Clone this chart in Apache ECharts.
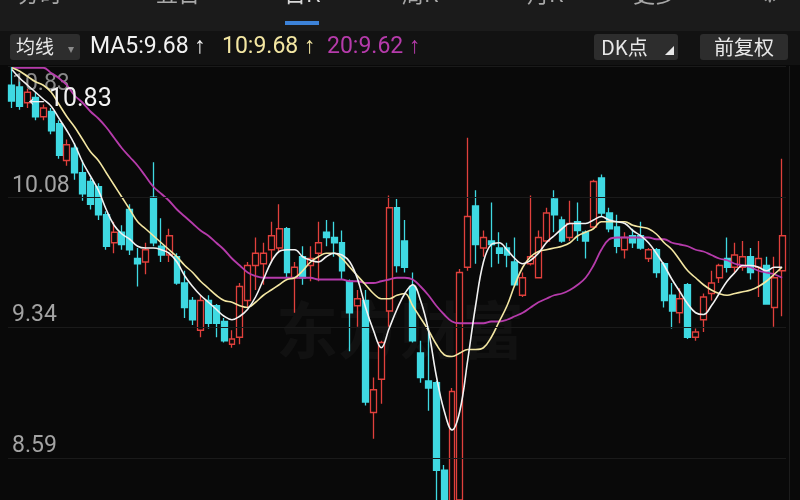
<!DOCTYPE html>
<html>
<head>
<meta charset="utf-8">
<script src="https://cdn.jsdelivr.net/npm/echarts@6/dist/echarts.min.js"></script>
<style>
html,body{margin:0;padding:0;background:#090909;}
#c{width:800px;height:500px;}
</style>
</head>
<body>
<div id="c"></div>
<script>
// ---- data ----
const categories = Array.from({length: 99}, (_, i) => 'D' + (i + 1));
const open = [10.72,10.71,10.62,10.65,10.54,10.57,10.50,10.29,10.36,10.22, 10.17,10.14,9.98,9.82,9.88,10.01,9.73,9.71,10.08,9.80, 9.75,9.74,9.59,9.49,9.32,9.49,9.46,9.37,9.24,9.28, 9.49,9.69,9.70,9.78,9.79,9.90,9.62,9.74,9.69,9.76, 9.88,9.85,9.82,9.60,9.46,9.49,8.85,9.04,9.43,10.02, 9.83,9.57,9.19,9.03,9.02,8.52,8.29,8.35,9.68,10.03, 9.79,9.83,9.79,9.79,9.71,9.52,9.70,9.62,9.83,10.07, 9.95,9.85,9.94,9.88,9.91,10.19,9.99,9.91,9.78,9.86, 9.86,9.73,9.78,9.70,9.52,9.42,9.58,9.28,9.38,9.53, 9.62,9.73,9.68,9.68,9.74,9.68,9.69,9.45,9.66];
const close = [10.63,10.60,10.68,10.54,10.59,10.46,10.32,10.38,10.22,10.10, 10.04,9.98,9.80,9.88,9.81,9.78,9.70,9.78,9.82,9.75, 9.86,9.59,9.45,9.38,9.49,9.36,9.36,9.26,9.27,9.57, 9.69,9.76,9.76,9.86,9.90,9.65,9.68,9.62,9.73,9.82, 9.85,9.82,9.66,9.42,9.50,8.91,8.98,9.25,10.02,9.69, 9.68,9.26,9.05,8.99,8.52,8.24,8.97,9.65,9.97,9.81, 9.85,9.81,9.76,9.75,9.58,9.62,9.74,9.85,9.99,9.98, 9.83,9.93,9.89,9.83,10.17,9.99,9.90,9.80,9.85,9.82, 9.79,9.78,9.65,9.49,9.43,9.50,9.28,9.31,9.51,9.59, 9.69,9.68,9.75,9.74,9.65,9.73,9.47,9.62,9.86];
const low = [10.59,10.58,10.59,10.52,10.52,10.44,10.30,10.26,10.18,10.06, 10.01,9.95,9.78,9.76,9.78,9.75,9.57,9.64,9.80,9.71, 9.71,9.58,9.39,9.35,9.28,9.33,9.28,9.25,9.22,9.24, 9.45,9.55,9.58,9.71,9.77,9.62,9.42,9.58,9.60,9.60, 9.80,9.74,9.61,9.20,9.34,8.89,8.70,8.90,9.34,9.65, 9.65,9.25,9.02,8.86,8.32,8.18,8.26,8.30,9.66,9.70, 9.74,9.68,9.70,9.68,9.57,9.51,9.69,9.62,9.82,9.88, 9.82,9.83,9.83,9.73,9.90,9.97,9.88,9.76,9.73,9.79, 9.78,9.71,9.62,9.45,9.33,9.36,9.27,9.26,9.31,9.49, 9.59,9.65,9.65,9.66,9.61,9.51,9.47,9.34,9.40];
const high = [10.83,10.74,10.70,10.68,10.61,10.59,10.52,10.41,10.39,10.29, 10.19,10.16,10.00,9.94,9.92,10.04,9.79,9.82,10.28,9.96, 9.90,9.76,9.66,9.51,9.52,9.52,9.47,9.39,9.32,9.59, 9.71,9.85,9.82,9.94,10.04,9.91,9.71,9.80,9.80,9.94, 9.95,9.94,9.89,9.61,9.55,9.55,9.05,9.26,10.09,10.07, 9.95,9.65,9.26,9.34,9.03,8.55,8.99,9.67,10.42,10.12, 9.89,10.05,9.88,9.82,9.85,9.65,10.09,9.89,10.02,10.12, 9.97,10.06,10.05,9.89,10.18,10.21,10.02,9.98,9.88,9.90, 9.94,9.79,9.79,9.71,9.59,9.56,9.59,9.33,9.53,9.66, 9.70,9.85,9.82,9.83,9.79,9.83,9.74,9.74,10.30];
const ma5 = [10.81,10.76,10.72,10.68,10.64,10.60,10.53,10.46,10.38,10.28, 10.20,10.12,10.01,9.92,9.87,9.84,9.80,9.79,9.79,9.78, 9.76,9.71,9.63,9.57,9.52,9.48,9.44,9.40,9.38,9.40, 9.44,9.51,9.61,9.71,9.77,9.78,9.78,9.74,9.72,9.71, 9.74,9.76,9.75,9.71,9.61,9.45,9.32,9.22,9.33,9.44, 9.53,9.58,9.49,9.32,9.06,8.86,8.75,8.86,9.15,9.46, 9.71,9.81,9.82,9.78,9.73,9.70,9.72,9.76,9.82,9.86, 9.90,9.93,9.93,9.93,9.95,9.97,9.95,9.94,9.93,9.89, 9.86,9.82,9.76,9.69,9.61,9.54,9.47,9.42,9.41,9.46, 9.53,9.60,9.65,9.69,9.69,9.68,9.66,9.68,9.68];
const ma10 = [10.82,10.80,10.77,10.74,10.72,10.68,10.61,10.54,10.48,10.41, 10.34,10.29,10.22,10.15,10.08,10.01,9.94,9.90,9.86,9.82, 9.78,9.74,9.69,9.65,9.60,9.56,9.52,9.49,9.48,9.46, 9.45,9.48,9.52,9.55,9.58,9.61,9.62,9.66,9.71,9.74, 9.76,9.76,9.73,9.68,9.63,9.58,9.53,9.50,9.50,9.52, 9.53,9.46,9.39,9.32,9.24,9.18,9.17,9.19,9.21,9.21, 9.22,9.28,9.37,9.46,9.58,9.68,9.74,9.77,9.78,9.79, 9.80,9.82,9.86,9.88,9.90,9.94,9.94,9.94,9.94,9.92, 9.91,9.90,9.87,9.82,9.78,9.72,9.66,9.62,9.58,9.55, 9.53,9.52,9.53,9.54,9.55,9.57,9.60,9.64,9.68];
const ma20 = [10.82,10.82,10.82,10.82,10.82,10.79,10.76,10.72,10.66,10.62, 10.57,10.53,10.48,10.42,10.36,10.31,10.26,10.20,10.14,10.10, 10.06,10.01,9.97,9.93,9.89,9.86,9.82,9.78,9.73,9.69, 9.65,9.63,9.62,9.62,9.62,9.62,9.62,9.62,9.62,9.61, 9.61,9.61,9.61,9.60,9.60,9.59,9.59,9.60,9.61,9.62, 9.62,9.61,9.57,9.52,9.46,9.41,9.37,9.36,9.36,9.36, 9.36,9.37,9.37,9.38,9.40,9.42,9.45,9.48,9.50,9.52, 9.53,9.55,9.58,9.62,9.69,9.78,9.84,9.85,9.85,9.85, 9.85,9.85,9.84,9.84,9.82,9.81,9.80,9.78,9.77,9.75, 9.73,9.72,9.70,9.69,9.68,9.66,9.65,9.64,9.62];
const yTicks = [10.83, 10.08, 9.34, 8.59];
const yMin = 8.35, yMax = 10.83;
const tabs = ['分时', '五日', '日K', '周K', '月K', '更多'];

// ---- colours ----
const UP = '#e0403c', DOWN = '#3fd9e2', BG = '#090909';
const C5 = '#f2f2f2', C10 = '#f3e6a2', C20 = '#b63bab';

const candleData = open.map((o, i) => [o, close[i], low[i], high[i]]);

const chart = echarts.init(document.getElementById('c'), null, {renderer: 'canvas'});
const cjk = '"Noto Sans CJK SC", "Noto Sans", sans-serif';
const num = 'Roboto, "Noto Sans", sans-serif';

const tabX = [40, 178, 302, 420, 545, 655];
const graphics = [
  {type: 'rect', shape: {x: 0, y: 0, width: 800, height: 31}, style: {fill: '#1b1b1b'}, z: 0, silent: true},
  {type: 'rect', shape: {x: 0, y: 31, width: 800, height: 34}, style: {fill: '#121212'}, z: 0, silent: true},
  {type: 'rect', shape: {x: 285, y: 21, width: 34, height: 4}, style: {fill: '#3c82d8'}, z: 5},
  {type: 'rect', shape: {x: 10, y: 34, width: 70, height: 26, r: 3}, style: {fill: '#2d2d2d'}, z: 5},
  {type: 'text', x: 16, y: 47, style: {text: '均线', fill: '#e8e8e8', font: '19px ' + cjk, verticalAlign: 'middle'}, z: 6},
  {type: 'text', x: 68, y: 48, style: {text: '▾', fill: '#8a8a8a', font: '12px ' + cjk, verticalAlign: 'middle'}, z: 6},
  {type: 'text', x: 90, y: 47, style: {text: 'MA5:' + ma5[ma5.length - 1].toFixed(2) + ' ↑', fill: C5, font: '23px ' + num, verticalAlign: 'middle'}, z: 6},
  {type: 'text', x: 222, y: 47, style: {text: '10:' + ma10[ma10.length - 1].toFixed(2) + ' ↑', fill: C10, font: '23px ' + num, verticalAlign: 'middle'}, z: 6},
  {type: 'text', x: 327, y: 47, style: {text: '20:' + ma20[ma20.length - 1].toFixed(2) + ' ↑', fill: C20, font: '23px ' + num, verticalAlign: 'middle'}, z: 6},
  {type: 'rect', shape: {x: 594, y: 34, width: 84, height: 26, r: 3}, style: {fill: '#2d2d2d'}, z: 5},
  {type: 'text', x: 601, y: 47, style: {text: 'DK点', fill: '#e8e8e8', font: '20px ' + cjk, verticalAlign: 'middle'}, z: 6},
  {type: 'text', x: 665, y: 51, style: {text: '◢', fill: '#e8e8e8', font: '9px ' + cjk, verticalAlign: 'middle'}, z: 6},
  {type: 'rect', shape: {x: 700, y: 34, width: 88, height: 26, r: 3}, style: {fill: '#2d2d2d'}, z: 5},
  {type: 'text', x: 744, y: 47, style: {text: '前复权', fill: '#e8e8e8', font: '20px ' + cjk, align: 'center', verticalAlign: 'middle'}, z: 6},
  {type: 'text', x: 770, y: -6, style: {text: '⚙', fill: '#9a9a9a', font: '22px ' + cjk, align: 'center', verticalAlign: 'middle'}, z: 6},
  {type: 'text', x: 400, y: 330, style: {text: '东方财富', fill: 'rgba(255,255,255,0.035)', font: 'bold 62px ' + cjk, align: 'center', verticalAlign: 'middle'}, z: 1, silent: true},
  {type: 'rect', shape: {x: 789, y: 66, width: 1, height: 434}, style: {fill: '#1c1c1c'}, z: 1}
];
tabs.forEach((t, i) => {
  graphics.push({type: 'text', x: tabX[i], y: -6, style: {text: t, fill: i === 2 ? '#d8d8d8' : '#a8a8a8', font: '22px ' + cjk, align: 'center', verticalAlign: 'middle'}, z: 6});
});

const yAxisBase = {
  type: 'value', min: yMin, max: yMax, position: 'left',
  axisLine: {show: false}, axisTick: {show: false}, splitLine: {show: false}
};

chart.setOption({
  backgroundColor: BG,
  animation: false,
  grid: {left: 8, right: 14, top: 66, bottom: 0},
  xAxis: {type: 'category', data: categories, boundaryGap: true, show: false},
  yAxis: [
    Object.assign({}, yAxisBase, {
      axisLabel: {inside: true, margin: 4, customValues: yTicks.slice(1), formatter: v => v.toFixed(2),
        verticalAlign: 'bottom', color: '#a3a3a3', fontSize: 23, fontFamily: num}
    }),
    Object.assign({}, yAxisBase, {
      axisLabel: {inside: true, margin: 4, customValues: yTicks.slice(0, 1), formatter: v => v.toFixed(2),
        verticalAlign: 'top', color: '#8a8a8a', fontSize: 23, fontFamily: num, padding: [7, 0, 0, 0]}
    })
  ],
  graphic: graphics,
  series: [
    {
      type: 'candlestick', data: candleData, barWidth: 6.4, z: 2,
      itemStyle: {color: BG, color0: DOWN, borderColor: UP, borderColor0: DOWN, borderWidth: 1.3},
      markLine: {
        silent: true, symbol: 'none', label: {show: false},
        lineStyle: {color: '#1a1a1a', width: 1, type: 'solid'},
        data: yTicks.map(v => ({yAxis: v}))
      },
      markPoint: {
        symbol: 'circle', symbolSize: 0,
        data: [{type: 'max', valueDim: 'highest'}],
        label: {show: true, position: 'right', distance: 4, offset: [8, 34],
          formatter: p => '←' + Number(p.value).toFixed(2), color: '#f2f2f2', fontSize: 25, fontFamily: num}
      }
    },
    {type: 'line', data: ma20, smooth: 0.4, symbol: 'none', z: 3, lineStyle: {color: C20, width: 1.8}},
    {type: 'line', data: ma10, smooth: 0.4, symbol: 'none', z: 4, lineStyle: {color: C10, width: 1.6}},
    {type: 'line', data: ma5, smooth: 0.4, symbol: 'none', z: 5, lineStyle: {color: C5, width: 1.6}}
  ]
});
</script>
</body>
</html>
